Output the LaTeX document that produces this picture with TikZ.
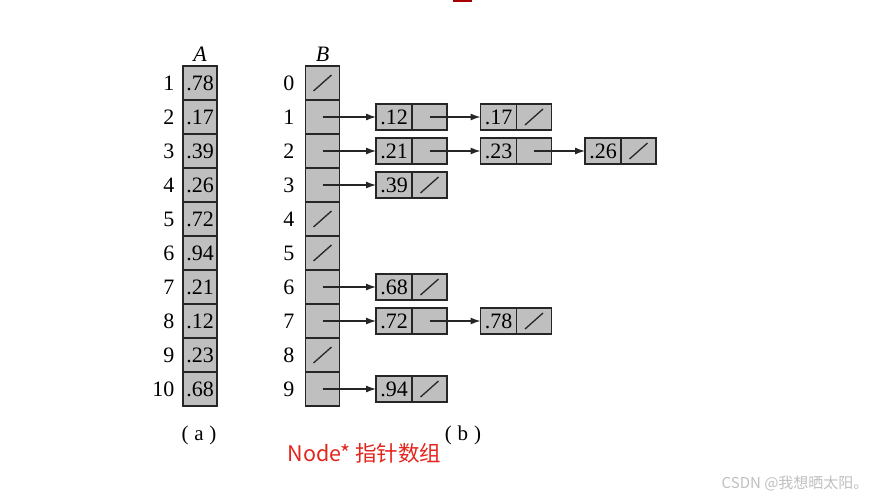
\documentclass[tikz,border=0pt]{standalone}
\usepackage{fontspec}
\setmainfont{Liberation Serif}
\newfontfamily\cjkfont{Noto Sans CJK SC}
\usetikzlibrary{positioning, arrows.meta}
\colorlet{cellgray}{black!25}
\colorlet{cellline}{black!85}
\definecolor{capred}{RGB}{226,36,28}
\tikzset{
  >={Latex[length=10,width=7]},
  cell/.style={draw=cellline,line width=1.3,fill=cellgray,minimum width=34,minimum height=34,
    inner sep=0,outer sep=0,font=\fontsize{22}{22}\selectfont},
  val/.style={cell,minimum width=36,minimum height=26},
  ptr/.style={cell,minimum width=35,minimum height=26},
  nil/.style={path picture={\draw[cellline,line width=1.3]
    ([shift={(-9pt,-8pt)}]path picture bounding box.center) --
    ([shift={(9pt,8pt)}]path picture bounding box.center);}},
  idx/.style={anchor=east,font=\fontsize{22}{22}\selectfont},
  head/.style={font=\fontsize{22}{22}\selectfont\itshape},
  link/.style={->,line width=1.2,cellline}
}

\begin{document}
\begin{tikzpicture}[x=1pt,y=-1pt]
  \useasboundingbox (0,0) rectangle (894,498);
  \fill[red!65!black] (453,0) rectangle (472,1.5);

  % Array A
  \node[head] (hA) at (200,54) {A};
  \foreach \v [count=\i] in {.78,.17,.39,.26,.72,.94,.21,.12,.23,.68} {
    \node[cell] (A\i) at (200,{49+34*\i}) {\v};
    \node[idx] (la\i) at (178,{49+34*\i}) {\i};
  }

  % Array B (buckets)
  \node[head] (hB) at (322.5,54) {B};
  \foreach \i/\k in {0/nil,1/cell,2/cell,3/cell,4/nil,5/nil,6/cell,7/cell,8/nil,9/cell} {
    \node[cell,\k] (B\i) at (322.5,{83+34*\i}) {};
    \node[idx] (lb\i) at (298,{83+34*\i}) {\i};
  }

  % Lists
  \node[val] (v12) at (394,117) {.12};
  \node[ptr,right=0pt of v12] (p12) {};
  \node[val] (v17) at (498.5,117) {.17};
  \node[ptr,nil,right=0pt of v17] (p17) {};

  \node[val] (v21) at (394,151) {.21};
  \node[ptr,right=0pt of v21] (p21) {};
  \node[val] (v23) at (498.5,151) {.23};
  \node[ptr,right=0pt of v23] (p23) {};
  \node[val] (v26) at (603,151) {.26};
  \node[ptr,nil,right=0pt of v26] (p26) {};

  \node[val] (v39) at (394,185) {.39};
  \node[ptr,nil,right=0pt of v39] (p39) {};

  \node[val] (v68) at (394,287) {.68};
  \node[ptr,nil,right=0pt of v68] (p68) {};

  \node[val] (v72) at (394,321) {.72};
  \node[ptr,right=0pt of v72] (p72) {};
  \node[val] (v78) at (498.5,321) {.78};
  \node[ptr,nil,right=0pt of v78] (p78) {};

  \node[val] (v94) at (394,389) {.94};
  \node[ptr,nil,right=0pt of v94] (p94) {};

  % Pointers
  \draw[link] (B1.center) -- (v12);
  \draw[link] (p12.center) -- (v17);
  \draw[link] (B2.center) -- (v21);
  \draw[link] (p21.center) -- (v23);
  \draw[link] (p23.center) -- (v26);
  \draw[link] (B3.center) -- (v39);
  \draw[link] (B6.center) -- (v68);
  \draw[link] (B7.center) -- (v72);
  \draw[link] (p72.center) -- (v78);
  \draw[link] (B9.center) -- (v94);

  % Captions
  \node[font=\fontsize{21}{21}\selectfont] (capa) at (199,435) {(\;a\;)};
  \node[font=\fontsize{21}{21}\selectfont] (capb) at (463,435) {(\;b\;)};
  \node[anchor=west,text=capred,font=\cjkfont\fontsize{21.5}{21.5}\selectfont] (note) at (284,453) {Node* 指针数组};
  \node[anchor=east,text=black!25,font=\cjkfont\fontsize{15}{15}\selectfont] (mark) at (872,483) {CSDN @我想晒太阳。};
\end{tikzpicture}
\end{document}
